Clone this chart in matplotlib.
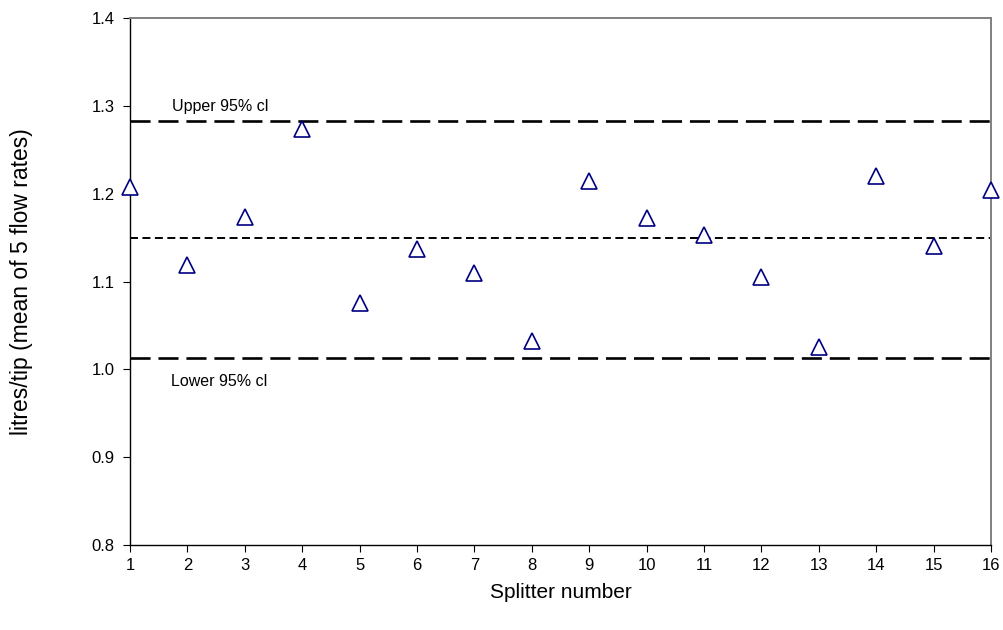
import numpy as np
import matplotlib
matplotlib.use("Agg")
from matplotlib import pyplot as plt

plt.rcParams['font.family'] = ['Liberation Sans', 'DejaVu Sans']

# flow per tip for each splitter (mean over the 5 flow rates)
splitter = np.arange(1, 17)
litres_per_tip = [1.208, 1.119, 1.173, 1.274, 1.075, 1.137, 1.110, 1.032,
                  1.214, 1.172, 1.153, 1.105, 1.026, 1.220, 1.140, 1.204]

mean_flow = 1.150
upper_cl = 1.283
lower_cl = 1.0125

fig = plt.figure(figsize=(10.04, 6.3), dpi=100)
ax = fig.add_axes([0.1295, 0.1349, 0.8576, 0.8365])

# confidence limits and mean
ax.axhline(upper_cl, color='black', lw=1.9, dashes=(7.6, 3.0))
ax.axhline(lower_cl, color='black', lw=1.9, dashes=(7.6, 3.0))
ax.axhline(mean_flow, color='black', lw=1.4, dashes=(4.1, 2.3))

ax.plot(splitter, litres_per_tip, linestyle='none', marker='^', ms=11,
        mfc='white', mec='#000080', mew=1.2, clip_on=False, zorder=5)

ax.text(1.74, upper_cl + 0.008, 'Upper 95% cl', fontsize=11.5, va='bottom', ha='left')
ax.text(1.72, lower_cl - 0.018, 'Lower 95% cl', fontsize=11.5, va='top', ha='left')

ax.set_xlim(1, 16)
ax.set_ylim(0.8, 1.4)
ax.set_xticks(splitter)
ax.set_yticks(np.arange(0.8, 1.41, 0.1))
ax.yaxis.set_major_formatter(matplotlib.ticker.FormatStrFormatter('%.1f'))
ax.tick_params(direction='out', length=5, width=0.8, labelsize=12, colors='black')
ax.tick_params(axis='x', pad=4.5)
ax.tick_params(axis='y', pad=6)

for side in ['left', 'bottom']:
    ax.spines[side].set_color('black')
    ax.spines[side].set_linewidth(1.0)
for side in ['top', 'right']:
    ax.spines[side].set_color('#808080')
    ax.spines[side].set_linewidth(1.4)

ax.set_xlabel('Splitter number', fontsize=15, labelpad=7)
ax.set_ylabel('litres/tip (mean of 5 flow rates)', fontsize=16.5, labelpad=42)

fig.savefig('out.png', dpi=100)
